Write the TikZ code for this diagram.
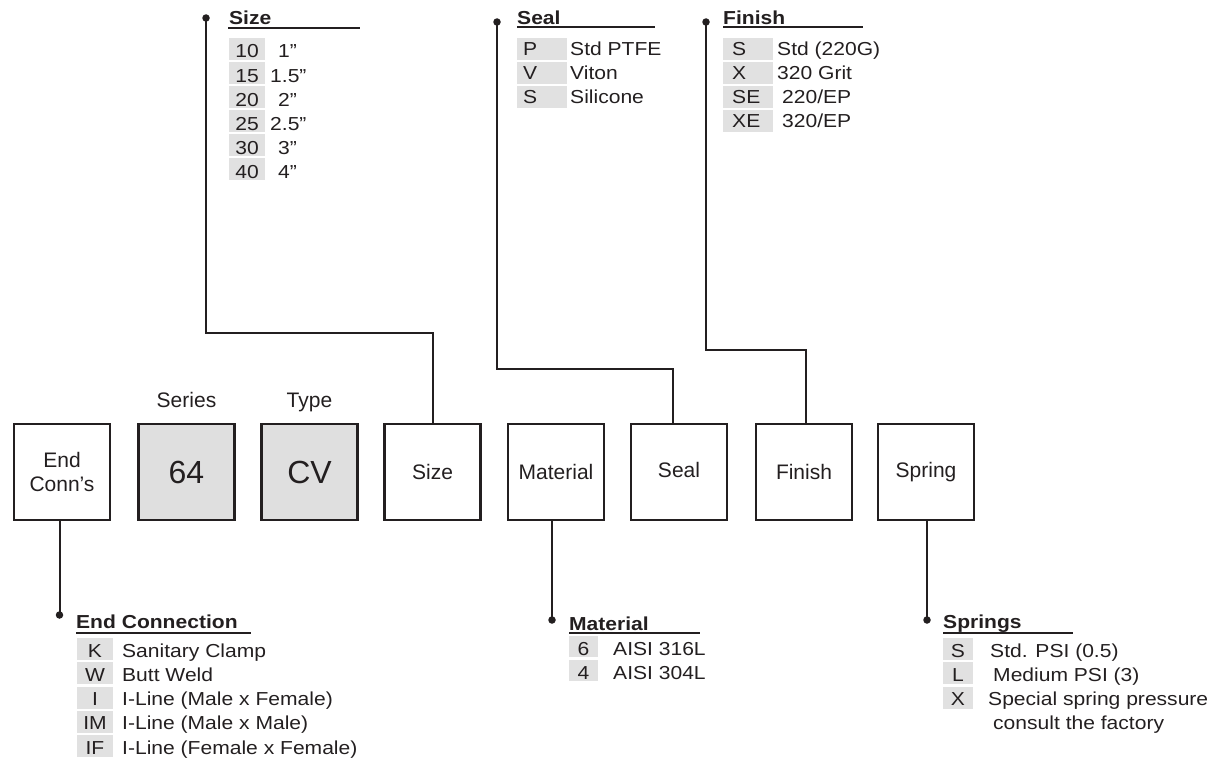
\documentclass[tikz,border=0pt]{standalone}
\usepackage{fontspec}
\setmainfont{Liberation Sans}
\newfontfamily\lstfont{Liberation Sans}[FakeStretch=1.12]
\definecolor{ink}{HTML}{231F20}
\definecolor{boxgray}{HTML}{DFDFDF}
\definecolor{rowgray}{HTML}{E1E1E1}
\tikzset{
  codebox/.style={draw=ink, line width=2.2pt, minimum width=96pt, minimum height=96pt, inner sep=0pt, align=center, text=ink, font=\fontsize{21}{24}\selectfont},
  onel/.style={text height=15pt, text depth=0pt},
  graybox/.style={codebox, fill=boxgray},
  conn/.style={draw=ink, line width=2pt},
  dotnode/.style={circle, fill=ink, inner sep=0pt, minimum size=7.5pt},
  lst/.style={inner sep=0pt, text=ink, font=\lstfont\fontsize{18.8}{24}\selectfont},
  ttl/.style={lst, font=\lstfont\bfseries\fontsize{18.8}{24}\selectfont},
  uline/.style={draw=ink, line width=1.2pt},
  toplabel/.style={inner sep=0pt, text=ink, font=\fontsize{21}{24}\selectfont}
}
\begin{document}
\begin{tikzpicture}[x=1pt, y=-1pt]
\useasboundingbox (0,0) rectangle (1222,760);

% main boxes
\node[codebox] (endc) at (62,472) {End\\Conn’s};
\node[graybox, onel, font=\fontsize{32}{36}\selectfont, text height=23pt] (series) at (186.5,472) {64};
\node[graybox, onel, font=\fontsize{32}{36}\selectfont, text height=23pt] (type) at (309.5,472) {CV};
\node[codebox, onel] (size) at (432.5,472) {Size};
\node[codebox, onel] (mat) at (556,472) {Material};
\node[codebox, onel, text height=11pt] (seal) at (679,472) {Seal};
\node[codebox, onel] (fin) at (804,472) {Finish};
\node[codebox, onel, text height=11pt] (spr) at (926,472) {Spring};

\node[toplabel, anchor=base] (serlbl) at (186.5,407) {Series};
\node[toplabel, anchor=base] (typlbl) at (309.5,407) {Type};

% dots
\node[dotnode] (sizedot) at (206,18) {};
\node[dotnode] (sealdot) at (497,22) {};
\node[dotnode] (findot) at (706,22) {};
\node[dotnode] (enddot) at (59.5,615) {};
\node[dotnode] (matdot) at (552,620) {};
\node[dotnode] (sprdot) at (927,620) {};

% connectors
\draw[conn] (size.north) -- ++(0,-90) -| (sizedot.center);
\draw[conn] ([xshift=-6pt]seal.north) -- ++(0,-54) -| (sealdot.center);
\draw[conn] ([xshift=2pt]fin.north) -- ++(0,-73) -| (findot.center);
\draw[conn] ([xshift=-2.5pt]endc.south) -- (enddot.center);
\draw[conn] ([xshift=-4pt]mat.south) -- (matdot.center);
\draw[conn] ([xshift=1pt]spr.south) -- (sprdot.center);

% Size list
\node[ttl, anchor=base west] (sizeT) at (229,25) {Size};
\draw[uline] (228,28) -- (360,28);
\foreach \c/\v/\vx [count=\i from 0] in {10/1”/278, 15/1.5”/270, 20/2”/278, 25/2.5”/270, 30/3”/278, 40/4”/278} {
  \pgfmathsetmacro\t{38+24*\i}
  \fill[rowgray] (229,\t) rectangle (265,\t+22);
  \node[lst, anchor=base] (szc\i) at (247,\t+20) {\c};
  \node[lst, anchor=base west] (szv\i) at (\vx,\t+20) {\v};
}

% Seal list
\node[ttl, anchor=base west] (sealT) at (517,25) {Seal};
\draw[uline] (517,27) -- (655,27);
\foreach \c/\v [count=\i from 0] in {P/Std PTFE, V/Viton, S/Silicone} {
  \pgfmathsetmacro\t{38+24*\i}
  \fill[rowgray] (517,\t) rectangle (567,\t+22);
  \node[lst, anchor=base west] (slc\i) at (523,\t+17.5) {\c};
  \node[lst, anchor=base west] (slv\i) at (570,\t+17.5) {\v};
}

% Finish list
\node[ttl, anchor=base west] (finT) at (723,25) {Finish};
\draw[uline] (723,27) -- (863,27);
\foreach \c/\v/\vx [count=\i from 0] in {S/{Std (220G)}/777, X/{320 Grit}/777, SE/{220/EP}/782, XE/{320/EP}/782} {
  \pgfmathsetmacro\t{38+24*\i}
  \fill[rowgray] (723,\t) rectangle (773,\t+22);
  \node[lst, anchor=base west] (fnc\i) at (732,\t+17.5) {\c};
  \node[lst, anchor=base west] (fnv\i) at (\vx,\t+17.5) {\v};
}

% End Connection list
\node[ttl, anchor=base west] (endT) at (76,628) {End Connection};
\draw[uline] (76,633) -- (251,633);
\foreach \c/\v [count=\i from 0] in {K/Sanitary Clamp, W/Butt Weld, I/I-Line (Male x Female), IM/I-Line (Male x Male), IF/I-Line (Female x Female)} {
  \pgfmathsetmacro\t{638+24.3*\i}
  \fill[rowgray] (77,\t) rectangle (113,\t+22);
  \node[lst, anchor=base] (ecc\i) at (95,\t+19) {\c};
  \node[lst, anchor=base west] (ecv\i) at (122,\t+19) {\v};
}

% Material list
\node[ttl, anchor=base west] (matT) at (569,630) {Material};
\draw[uline] (569,633) -- (700,633);
\foreach \c/\v [count=\i from 0] in {6/AISI 316L, 4/AISI 304L} {
  \pgfmathsetmacro\t{636+24*\i}
  \fill[rowgray] (569,\t) rectangle (598,\t+21);
  \node[lst, anchor=base] (mtc\i) at (583.5,\t+19) {\c};
  \node[lst, anchor=base west] (mtv\i) at (613,\t+19) {\v};
}

% Springs list
\node[ttl, anchor=base west] (sprT) at (943,628) {Springs};
\draw[uline] (943,633) -- (1073,633);
\foreach \c/\v/\vx [count=\i from 0] in {S/Std. PSI (0.5)/990, L/Medium PSI (3)/993, X/Special spring pressure/988} {
  \pgfmathsetmacro\t{638+24.3*\i}
  \fill[rowgray] (943,\t) rectangle (973,\t+22);
  \node[lst, anchor=base] (spc\i) at (958,\t+19) {\c};
  \node[lst, anchor=base west] (spv\i) at (\vx,\t+19) {\v};
}
\node[lst, anchor=base west] (spv3) at (993,729) {consult the factory};
\end{tikzpicture}
\end{document}
